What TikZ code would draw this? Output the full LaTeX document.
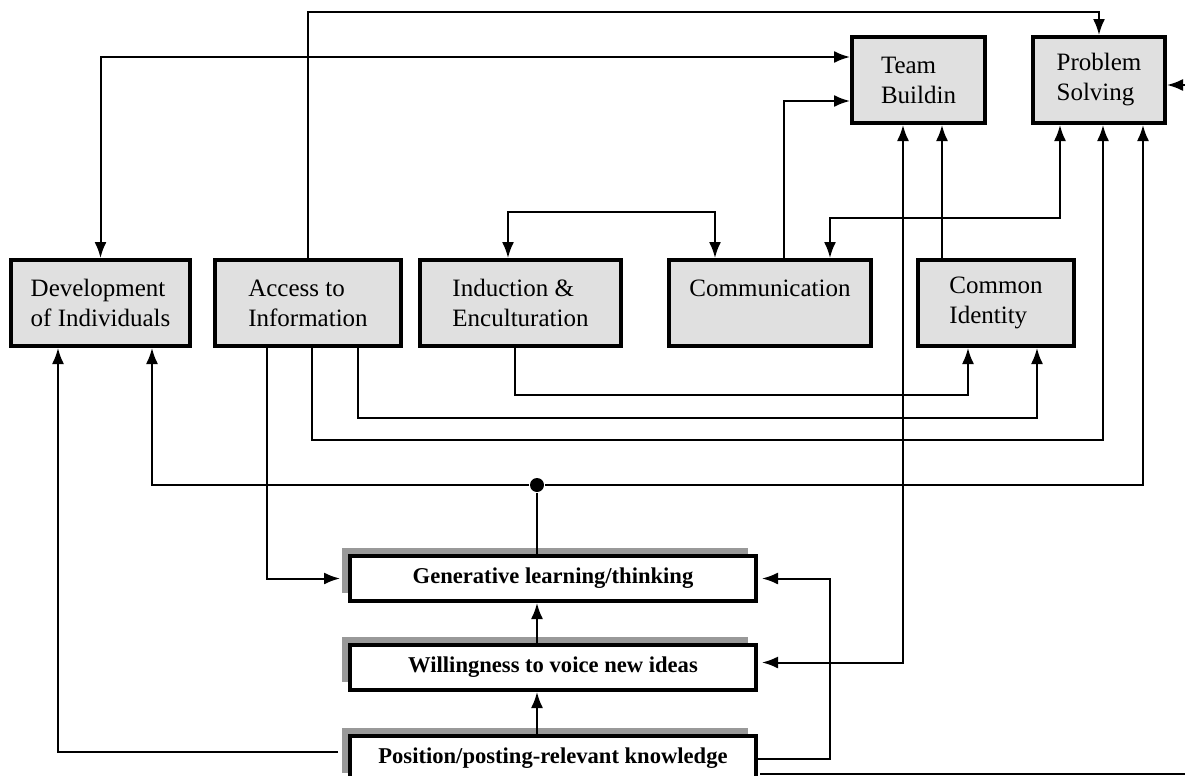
\documentclass[tikz,border=0pt]{standalone}
\usepackage{fontspec}
\setmainfont{Liberation Serif}
\usetikzlibrary{arrows.meta,positioning,calc,shadows}

\begin{document}
\begin{tikzpicture}[
	x = 0.5pt, y = -0.5pt, % one unit per pixel, y runs down
	> = {Latex[length=8pt,width=6pt]}, % arrow head style
	line width = 1pt, % connector lines
	box/.style={rectangle, draw=black, line width=2pt, fill=black!12, minimum height=43pt, align=left, font=\fontsize{12.5pt}{15pt}\selectfont},  % grey outcome boxes
	stage/.style={rectangle, draw=black, line width=2pt, fill=white, minimum width=203pt, minimum height=22.5pt, font=\bfseries\fontsize{11.3pt}{13pt}\selectfont, general shadow={fill=black!40, shadow xshift=-4pt, shadow yshift=4pt}},  % shadowed stages
	dot/.style={circle, fill=black, inner sep=0pt, minimum size=7pt},
	]
	\useasboundingbox (0,0) rectangle (1185,776);

	% Outcome boxes
	% Nodes and their relative positions
	\node[box, minimum width=89.5pt] (dev) at (100.5,303) {Development\\of Individuals};
	\node[box, minimum width=93pt] (acc) [right = 10.5pt of dev] {Access to\\Information};
	\node[box, minimum width=100.5pt] (ind) [right = 7.5pt of acc] {Induction \&\\Enculturation};
	\node[box, minimum width=101pt] (com) [right = 22pt of ind] {Communication\\\mbox{}};
	\node[box, minimum width=78pt] (cid) [right = 21.5pt of com] {Common\\Identity};
	\node[box, minimum width=66.5pt] (team) at (918.5,80) {Team\\Buildin};
	\node[box, minimum width=66pt] (prob) [right = 22pt of team] {Problem\\Solving};

	% Stages
	\node[stage] (gen) at (553,578.5) {Generative learning/thinking};
	\node[stage] (will) [below = 20pt of gen] {Willingness to voice new ideas};
	\node[stage] (pos) [below = 21pt of will] {Position/posting-relevant knowledge};
	\node[dot] (junc) at ($(gen.north west)+(189,-69)$) {};

	% Paths along the top
	\draw[<->] (dev.north) |- ($(team.west)+(0,-23)$);
	\draw[->] (acc.north) |- ($(prob.north)+(0,-23)$) -- (prob.north);
	\draw[->] ($(com.north west)+(117,0)$) |- ($(team.west)+(0,21)$);
	\draw[<->] ($(ind.north west)+(90,0)$) -- ++(0,-46) -| ($(com.north west)+(48,0)$);
	\draw[<->] ($(prob.south west)+(29,0)$) -- ++(0,93) -| ($(com.north west)+(163,0)$);
	\coordinate (tb) at ($(team.south west)+(92,0)$);
	\draw[->] (tb |- cid.north) -- (tb);

	% Paths below the boxes
	\draw[->] ($(ind.south west)+(97,0)$) -- ++(0,47) -| ($(cid.south west)+(52,0)$);
	\draw[->] ($(acc.south west)+(145,0)$) -- ++(0,70) -| ($(cid.south west)+(121,0)$);
	\draw[->] ($(acc.south west)+(99,0)$) -- ++(0,92) -| ($(prob.south west)+(72,0)$);
	\draw ($(gen.north west)+(189,0)$) -- (junc);
	\draw[->] (junc) -| ($(dev.south west)+(143,0)$);
	\draw[->] (junc) -| ($(prob.south west)+(112,0)$);
	\draw[<->] ($(team.south west)+(53,0)$) |- ($(will.east)+(4,-5)$);

	% Paths between the stages
	\draw[->] ($(acc.south west)+(54,0)$) |- ($(gen.west)+(-8,0)$);
	\draw[->] ($(will.north west)+(189,0)$) -- ($(gen.south west)+(189,0)$);
	\draw[->] ($(pos.north west)+(189,0)$) -- ($(will.south west)+(189,0)$);
	\draw[->] ($(pos.west)+(-10,-7)$) -| ($(dev.south west)+(49,0)$);
	\draw[->] (pos.east) -- ++(72,0) |- ($(gen.east)+(4,0)$);
	\draw[->] ($(pos.east)+(2,15)$) -- ++(428,0) |- ($(prob.east)+(0,5)$);

\end{tikzpicture}
\end{document}
